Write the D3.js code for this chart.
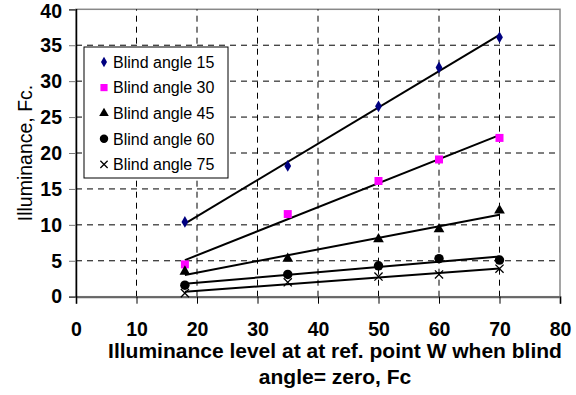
<!DOCTYPE html>
<html>
<head>
<meta charset="utf-8">
<script src="https://cdn.jsdelivr.net/npm/d3@7"></script>
<style>
  body { margin: 0; background: #fff; }
  svg { font-family: Arial, "Liberation Sans", sans-serif; }
  .tick text { font-weight: 700 !important; font-family: "Liberation Sans", Arial, sans-serif !important; }
</style>
</head>
<body>
<svg id="chart" width="576" height="395"></svg>
<script>
// x values (Fc at ref point W, blind angle zero)
const xVals = [18, 35, 50, 60, 70]

const seriesNames = ['Blind angle 15', 'Blind angle 30', 'Blind angle 45', 'Blind angle 60', 'Blind angle 75']
const angle15 = [10.4, 18.2, 26.5, 31.9, 36.1]
const angle30 = [4.5, 11.5, 16.1, 19.1, 22.1]
const angle45 = [3.5, 5.3, 8.0, 9.4, 12.0]
const angle60 = [1.6, 3.1, 4.3, 5.3, 5.1]
const angle75 = [0.5, 2.0, 2.8, 3.1, 3.9]

const xTicks = [0, 10, 20, 30, 40, 50, 60, 70, 80]
const yTicks = [0, 5, 10, 15, 20, 25, 30, 35, 40]

const allSeries = [angle15, angle30, angle45, angle60, angle75]
const symbols = [d3.symbolDiamond, d3.symbolSquare, d3.symbolTriangle, d3.symbolCircle, d3.symbolX]
const colors = ['#000080', '#ff00ff', '#000', '#000', '#000']
const sizes = [40, 64, 50, 70, 45]

const margin = {left: 76, right: 16, top: 9.3, bottom: 98.3}
const W = 576, H = 395

const svg = d3.select('#chart')

const x = d3.scaleLinear().domain([0, 80]).range([margin.left, W - margin.right])
const y = d3.scaleLinear().domain([0, 40]).range([H - margin.bottom, margin.top])

// plot frame
svg.append('rect')
    .attr('x', x(0)).attr('y', y(40))
    .attr('width', x(80) - x(0)).attr('height', y(0) - y(40))
    .attr('fill', 'none').attr('stroke', '#888').attr('stroke-width', 1.5)

// dashed grid
svg.append('g').selectAll('line')
    .data(yTicks.filter(d => d > 0 && d < 40))
    .join('line')
    .attr('x1', x(0)).attr('x2', x(80))
    .attr('y1', d => y(d)).attr('y2', d => y(d))
    .attr('stroke', '#000').attr('stroke-dasharray', '6,5')

svg.append('g').selectAll('line')
    .data(xTicks.filter(d => d > 0 && d < 80))
    .join('line')
    .attr('x1', d => x(d)).attr('x2', d => x(d))
    .attr('y1', y(0)).attr('y2', y(40))
    .attr('stroke', '#000').attr('stroke-dasharray', '6,5')

// axes
const xAxis = svg.append('g')
    .attr('transform', `translate(0,${y(0)})`)
    .call(d3.axisBottom(x).tickValues(xTicks).tickSize(7).tickPadding(18))
xAxis.select('.domain').attr('stroke', '#666').attr('stroke-width', 2)
xAxis.selectAll('.tick line').attr('stroke', '#000')
xAxis.selectAll('text').style('font-size', '19.5px').attr('font-weight', 'bold').attr('fill', '#000')

const yAxis = svg.append('g')
    .attr('transform', `translate(${x(0)},0)`)
    .call(d3.axisLeft(y).tickValues(yTicks).tickSize(7).tickPadding(7))
yAxis.select('.domain').attr('stroke', '#000').attr('stroke-width', 1.5)
yAxis.selectAll('.tick line').attr('stroke', '#777')
yAxis.selectAll('text').style('font-size', '19.5px').attr('font-weight', 'bold').attr('fill', '#000')
// keep the top label inside the picture
yAxis.selectAll('.tick').filter(d => d === 40).select('text').attr('dy', '0.42em')

// trendlines (linear least squares)
function fit(ys) {
    let mx = d3.mean(xVals), my = d3.mean(ys)
    let num = d3.sum(xVals, (v, i) => (v - mx) * (ys[i] - my))
    let den = d3.sum(xVals, v => (v - mx) * (v - mx))
    let b = num / den
    return [b, my - b * mx]
}

const line = d3.line().x(d => x(d[0])).y(d => y(d[1]))
allSeries.forEach(s => {
    let [b, a] = fit(s)
    let x0 = d3.min(xVals), x1 = d3.max(xVals)
    svg.append('path')
        .attr('d', line([[x0, a + b * x0], [x1, a + b * x1]]))
        .attr('stroke', '#000').attr('stroke-width', 2).attr('fill', 'none')
})

// markers
allSeries.forEach((s, si) => {
    svg.append('g').selectAll('path')
        .data(s)
        .join('path')
        .attr('transform', (d, i) => `translate(${x(xVals[i])},${y(d)})`)
        .attr('d', d3.symbol().type(symbols[si]).size(sizes[si]))
        .attr('fill', si === 4 ? 'none' : colors[si])
        .attr('stroke', si === 4 ? '#000' : 'none')
        .attr('stroke-width', 1.3)
})

// legend
const lg = svg.append('g').attr('transform', 'translate(84,47)')
lg.append('rect').attr('width', 144).attr('height', 131)
    .attr('fill', '#fff').attr('stroke', '#000').attr('stroke-width', 1)
seriesNames.forEach((name, i) => {
    let yy = 15 + i * 25.6
    lg.append('path')
        .attr('transform', `translate(20,${yy})`)
        .attr('d', d3.symbol().type(symbols[i]).size(sizes[i] * 0.8))
        .attr('fill', i === 4 ? 'none' : colors[i])
        .attr('stroke', i === 4 ? '#000' : 'none')
        .attr('stroke-width', 1.3)
    lg.append('text')
        .attr('x', 29).attr('y', yy).attr('dy', '0.36em')
        .attr('font-size', 16).attr('fill', '#000')
        .text(name)
})

// axis titles
svg.append('text')
    .attr('transform', `translate(32,${(y(0) + y(40)) / 2}) rotate(-90)`)
    .attr('text-anchor', 'middle')
    .attr('font-size', 19.5)
    .text('Illuminance, Fc.')

svg.append('text')
    .attr('x', 335).attr('y', 358)
    .attr('text-anchor', 'middle')
    .attr('font-size', 21).attr('font-weight', 'bold')
    .text('Illuminance level at at ref. point W when blind')
svg.append('text')
    .attr('x', 335).attr('y', 384)
    .attr('text-anchor', 'middle')
    .attr('font-size', 21).attr('font-weight', 'bold')
    .text('angle= zero, Fc')
</script>
</body>
</html>
